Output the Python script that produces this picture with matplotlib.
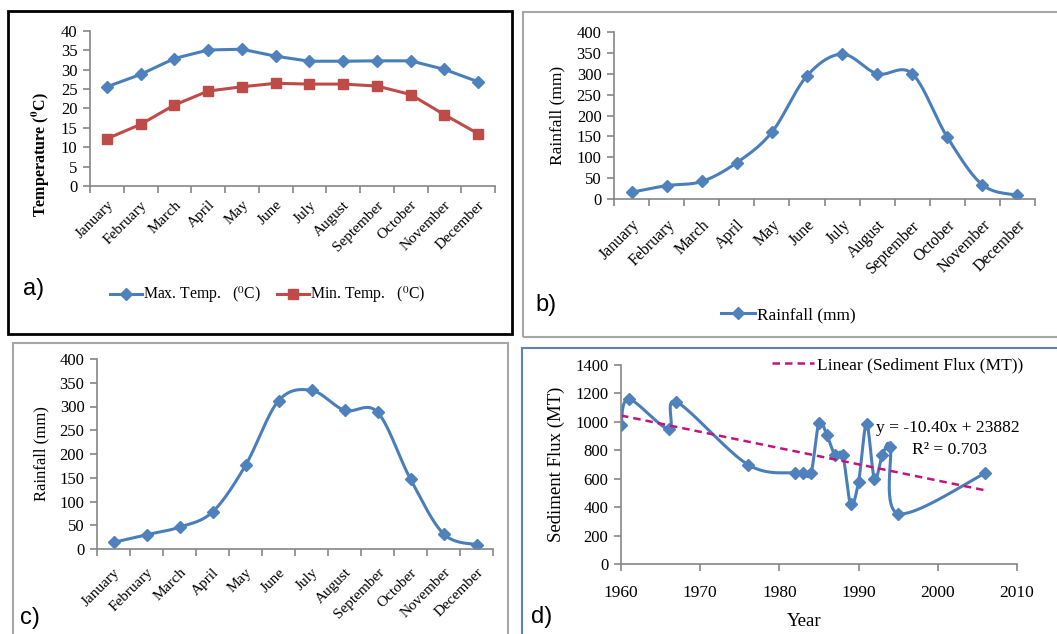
import numpy as np
import matplotlib
matplotlib.use('Agg')
import matplotlib.pyplot as plt
from matplotlib.patches import Rectangle

plt.rcParams['font.family'] = ['Liberation Serif', 'DejaVu Serif']
plt.rcParams['mathtext.fontset'] = 'stix'

months = ['January', 'February', 'March', 'April', 'May', 'June', 'July',
          'August', 'September', 'October', 'November', 'December']

# panel a - temperature
max_temp = [25.6, 28.8, 32.9, 35.1, 35.3, 33.5, 32.2, 32.2, 32.3, 32.3, 30.1, 26.9]
min_temp = [12.2, 15.9, 20.9, 24.5, 25.6, 26.5, 26.3, 26.3, 25.8, 23.6, 18.4, 13.5]

# panel b - rainfall
rain_b = [16, 32, 42, 87, 160, 295, 347, 300, 300, 148, 34, 9]

# panel c - rainfall
rain_c = [14, 30, 46, 78, 176, 312, 334, 292, 288, 147, 32, 9]

# panel d - sediment flux
years = [1960, 1961, 1966, 1967, 1976, 1982, 1983, 1984, 1985, 1986,
         1987, 1988, 1989, 1990, 1991, 1992, 1993, 1994, 1995, 2006]
flux = [980, 1160, 950, 1140, 700, 640, 640, 640, 995, 905,
        770, 765, 420, 580, 985, 600, 765, 825, 355, 640]

BLUE = '#4A7EBB'
BLUE_M = '#4F81BD'
RED = '#BE4B48'
AXC = '#868686'

W, H = 1057, 634


def box(l, t, r, b):
    # pixel box -> figure fraction [left, bottom, width, height]
    return [l / W, 1 - b / H, (r - l) / W, (b - t) / H]


def smooth(x, y, sx, sy, n=40):
    # excel style smoothed line (bezier through points)
    P = np.column_stack([np.asarray(x, float) * sx, np.asarray(y, float) * sy])
    P = np.vstack([P[0], P, P[-1]])
    t = np.linspace(0, 1, n)[:, None]
    segs = []
    for i in range(1, len(P) - 2):
        p0, p1, p2, p3 = P[i - 1], P[i], P[i + 1], P[i + 2]
        c1 = p1 + (p2 - p0) / 6
        c2 = p2 - (p3 - p1) / 6
        segs.append((1 - t) ** 3 * p1 + 3 * (1 - t) ** 2 * t * c1
                    + 3 * (1 - t) * t ** 2 * c2 + t ** 3 * p2)
    out = np.vstack(segs)
    return out[:, 0] / sx, out[:, 1] / sy


def style_axes(ax):
    for s in ['top', 'right']:
        ax.spines[s].set_visible(False)
    for s in ['left', 'bottom']:
        ax.spines[s].set_color(AXC)
        ax.spines[s].set_linewidth(1.2)
    ax.tick_params(colors=AXC, length=5, width=1.2, labelcolor='black')
    ax.tick_params(axis='y', labelsize=12, pad=4)


def month_axes(ax, size=11, pad=10):
    ax.set_xlim(0.5, 12.5)
    ax.set_xticks(np.arange(0.5, 13, 1))
    ax.set_xticklabels([])
    ax.set_xticks(np.arange(1, 13), minor=True)
    ax.set_xticklabels(months, minor=True, rotation=45, ha='right',
                       rotation_mode='anchor', fontsize=size)
    ax.tick_params(axis='x', which='minor', length=0, pad=pad)


fig = plt.figure(figsize=(W / 100, H / 100), dpi=100)

# panel borders
for (l, t, r, b), c, lw in [((8, 11, 512, 334), 'black', 2.0),
                            ((523, 12, 1062, 337), '#A6A6A6', 1.5),
                            ((13, 343, 508, 640), '#A6A6A6', 1.5),
                            ((522, 348, 1062, 640), '#5B83B9', 1.5)]:
    fig.add_artist(Rectangle((l / W, 1 - b / H), (r - l) / W, (b - t) / H,
                             transform=fig.transFigure, fill=False,
                             edgecolor=c, linewidth=lw))

x = np.arange(1, 13)

# ---- a)
ax = fig.add_axes(box(90, 31, 495, 186))
ax.plot(x, max_temp, color=BLUE, lw=2.2, marker='D', ms=6, mfc=BLUE_M, mec=BLUE_M,
        label='Max. Temp.   ($^0$C)')
ax.plot(x, min_temp, color=RED, lw=2.2, marker='s', ms=7.5, mfc=RED, mec=RED,
        label='Min. Temp.   ($^0$C)')
ax.set_ylim(0, 40)
ax.set_yticks(np.arange(0, 41, 5))
style_axes(ax)
month_axes(ax, 11, 9)
ax.set_ylabel('Temperature ($\\mathbf{^0}$C)', fontsize=11.5, fontweight='bold')
ax.yaxis.set_label_coords(-0.094, 0.2)
ax.legend(loc='center', bbox_to_anchor=(268 / W, 1 - 295 / H), bbox_transform=fig.transFigure,
          ncol=2, frameon=False, fontsize=11.3, handlelength=2.0, columnspacing=1.0,
          handletextpad=0.1)

# ---- b)
ax = fig.add_axes(box(614, 32, 1035, 199))
sx, sy = 421 / 12, 167 / 400
xs, ys = smooth(x, rain_b, sx, sy)
ax.plot(xs, ys, color=BLUE, lw=2.2)
ax.plot(x, rain_b, ls='none', marker='D', ms=6, mfc=BLUE_M, mec=BLUE_M)
ax.plot([], [], color=BLUE, lw=2.2, marker='D', ms=6, mfc=BLUE_M, mec=BLUE_M,
        label='Rainfall (mm)')
ax.set_ylim(0, 400)
ax.set_yticks(np.arange(0, 401, 50))
style_axes(ax)
month_axes(ax, 11.5, 13)
ax.set_ylabel('Rainfall (mm)', fontsize=12.5)
ax.yaxis.set_label_coords(-0.115, 0.5)
ax.legend(loc='center', bbox_to_anchor=(788 / W, 1 - 315 / H), bbox_transform=fig.transFigure,
          frameon=False, fontsize=12.4, handlelength=2.0, handletextpad=0.1)

# ---- c)
ax = fig.add_axes(box(97, 359, 493, 549))
sx, sy = 396 / 12, 190 / 400
xs, ys = smooth(x, rain_c, sx, sy)
ax.plot(xs, ys, color=BLUE, lw=2.2)
ax.plot(x, rain_c, ls='none', marker='D', ms=6, mfc=BLUE_M, mec=BLUE_M)
ax.set_ylim(0, 400)
ax.set_yticks(np.arange(0, 401, 50))
style_axes(ax)
month_axes(ax, 11, 12)
ax.set_ylabel('Rainfall (mm)', fontsize=12)
ax.yaxis.set_label_coords(-0.119, 0.5)

# ---- d)
ax = fig.add_axes(box(621, 365, 1017, 564))
sx, sy = 396 / 50, 199 / 1400
xs, ys = smooth(years, flux, sx, sy)
ax.plot(xs, ys, color=BLUE, lw=2.2)
ax.plot(years, flux, ls='none', marker='D', ms=6, mfc=BLUE_M, mec=BLUE_M)
coef = np.polyfit(years, flux, 1)
yr = np.array([years[0], years[-1]])
ax.plot(yr, np.polyval(coef, yr), color='#C0157F', lw=1.8, ls=(0, (3, 2)),
        label='Linear (Sediment Flux (MT))')
ax.set_xlim(1960, 2010)
ax.set_xticks(np.arange(1960, 2011, 10))
ax.set_ylim(0, 1400)
ax.set_yticks(np.arange(0, 1401, 200))
style_axes(ax)
ax.tick_params(axis='x', labelsize=12.5, pad=10)
ax.set_ylabel('Sediment Flux (MT)', fontsize=13.5)
ax.yaxis.set_label_coords(-0.141, 0.5)
ax.set_xlabel('Year', fontsize=13.5)
ax.xaxis.set_label_coords(0.462, -0.245)
ax.legend(loc='center right', bbox_to_anchor=(1039 / W, 1 - 365 / H), bbox_transform=fig.transFigure,
          frameon=False, fontsize=12.6, handlelength=2.4, handletextpad=0.2)
ax.text(948 / W, 1 - 428 / H, 'y = -10.40x + 23882', transform=fig.transFigure,
        fontsize=12.6, ha='center', va='center')
ax.text(949 / W, 1 - 450 / H, 'R² = 0.703', transform=fig.transFigure,
        fontsize=12.6, ha='center', va='center')

# panel letters
for lab, px, py in [('a)', 34, 289), ('b)', 546, 305), ('c)', 30, 618), ('d)', 542, 617)]:
    fig.text(px / W, 1 - py / H, lab, fontsize=17, family='Liberation Sans',
             ha='center', va='center')

fig.savefig('out.png', dpi=100)
